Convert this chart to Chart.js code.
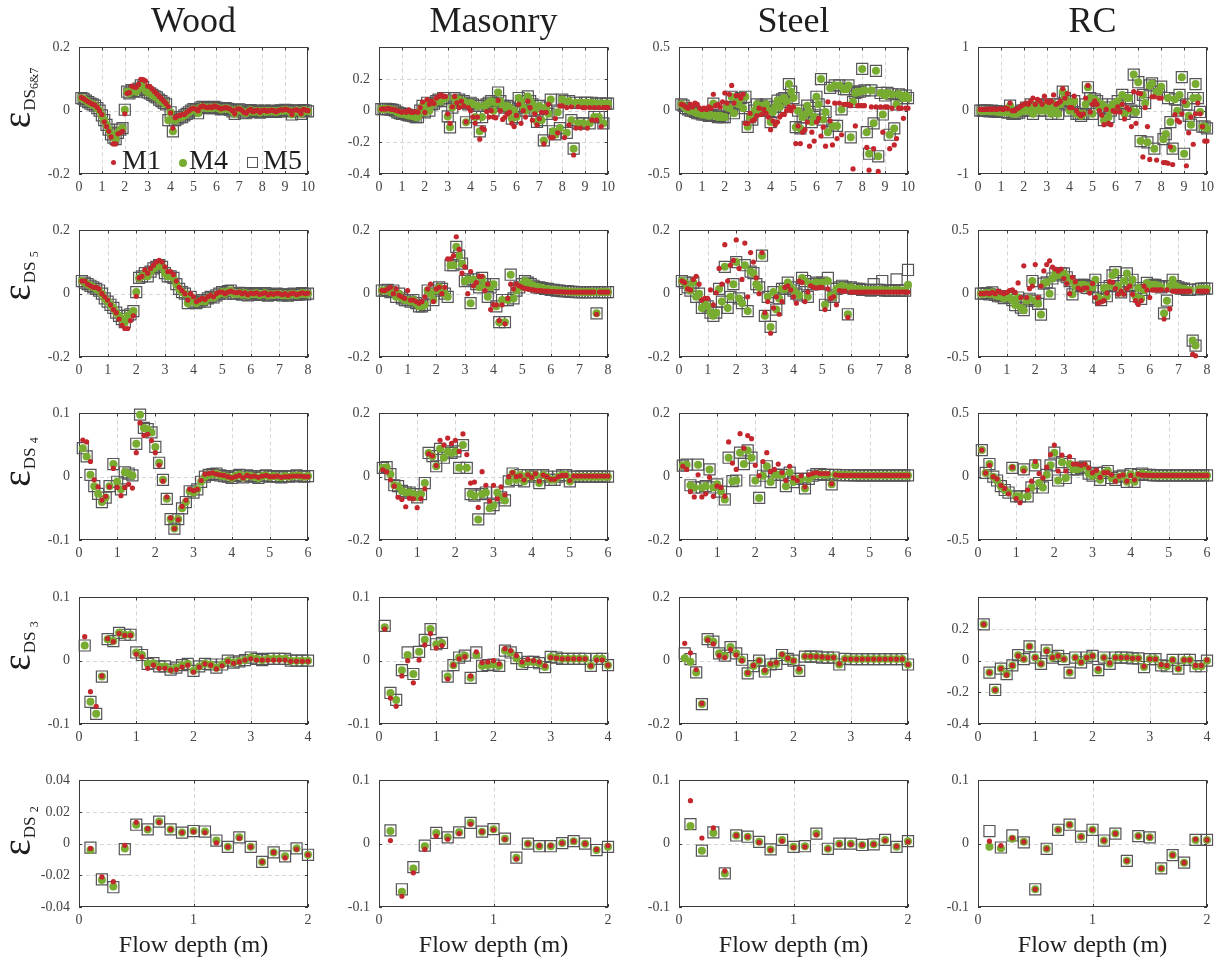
<!DOCTYPE html>
<html><head><meta charset="utf-8">
<script src="https://cdn.jsdelivr.net/npm/chart.js@4.4.1/dist/chart.umd.min.js"></script>
<style>
html,body{margin:0;padding:0;background:#fff;}
#stage{position:relative;width:1217px;height:960px;overflow:hidden;font-family:"Liberation Serif","Times New Roman",serif;color:#1e1e1e;}
#stage canvas{position:absolute;}
.title{position:absolute;top:2px;width:229px;text-align:center;font-size:36px;line-height:36px;white-space:nowrap;}
.xlab{position:absolute;top:932px;width:300px;text-align:center;font-size:24px;line-height:24px;white-space:nowrap;}
.ylab{position:absolute;white-space:nowrap;transform:translate(-50%,-50%) rotate(-90deg);line-height:40px;}
.ylab .e{font-size:39px;}
.ylab .s1{font-size:17px;position:relative;top:5px;margin-left:1px;}
.ylab .s2{font-size:12px;position:relative;top:8px;}
.leg{position:absolute;font-size:28px;line-height:28px;white-space:nowrap;}
.dot{position:absolute;border-radius:50%;}
.sq{position:absolute;border:1px solid #555;box-sizing:border-box;}
</style></head>
<body><div id="stage"></div>
<script>
// ---------- x categories (flow depth, m) ----------
const depth10=[.1,.2,.3,.4,.5,.6,.7,.8,.9,1,1.1,1.2,1.3,1.4,1.5,1.6,1.7,1.8,1.9,2,2.1,2.2,2.3,2.4,2.5,2.6,2.7,2.8,2.9,3,3.1,3.2,3.3,3.4,3.5,3.6,3.7,3.8,3.9,4,4.1,4.2,4.3,4.4,4.5,4.6,4.7,4.8,4.9,5,5.1,5.2,5.3,5.4,5.5,5.6,5.7,5.8,5.9,6,6.1,6.2,6.3,6.4,6.5,6.6,6.7,6.8,6.9,7,7.1,7.2,7.3,7.4,7.5,7.6,7.7,7.8,7.9,8,8.1,8.2,8.3,8.4,8.5,8.6,8.7,8.8,8.9,9,9.1,9.2,9.3,9.4,9.5,9.6,9.7,9.8,9.9,10];
const depth8=[.1,.2,.3,.4,.5,.6,.7,.8,.9,1,1.1,1.2,1.3,1.4,1.5,1.6,1.7,1.8,1.9,2,2.1,2.2,2.3,2.4,2.5,2.6,2.7,2.8,2.9,3,3.1,3.2,3.3,3.4,3.5,3.6,3.7,3.8,3.9,4,4.1,4.2,4.3,4.4,4.5,4.6,4.7,4.8,4.9,5,5.1,5.2,5.3,5.4,5.5,5.6,5.7,5.8,5.9,6,6.1,6.2,6.3,6.4,6.5,6.6,6.7,6.8,6.9,7,7.1,7.2,7.3,7.4,7.5,7.6,7.7,7.8,7.9,8];
const depth6=[.1,.2,.3,.4,.5,.6,.7,.8,.9,1,1.1,1.2,1.3,1.4,1.5,1.6,1.7,1.8,1.9,2,2.1,2.2,2.3,2.4,2.5,2.6,2.7,2.8,2.9,3,3.1,3.2,3.3,3.4,3.5,3.6,3.7,3.8,3.9,4,4.1,4.2,4.3,4.4,4.5,4.6,4.7,4.8,4.9,5,5.1,5.2,5.3,5.4,5.5,5.6,5.7,5.8,5.9,6];
const depth4=[.1,.2,.3,.4,.5,.6,.7,.8,.9,1,1.1,1.2,1.3,1.4,1.5,1.6,1.7,1.8,1.9,2,2.1,2.2,2.3,2.4,2.5,2.6,2.7,2.8,2.9,3,3.1,3.2,3.3,3.4,3.5,3.6,3.7,3.8,3.9,4];
const depth2=[.1,.2,.3,.4,.5,.6,.7,.8,.9,1,1.1,1.2,1.3,1.4,1.5,1.6,1.7,1.8,1.9,2];

// ---------- tick labels ----------
const xTicks10=[0,1,2,3,4,5,6,7,8,9,10];
const xTicks8=[0,1,2,3,4,5,6,7,8];
const xTicks6=[0,1,2,3,4,5,6];
const xTicks4=[0,1,2,3,4];
const xTicks2=[0,1,2];
const yT02=[-.2,0,.2];
const yT04=[-.4,-.2,0,.2];
const yT05=[-.5,0,.5];
const yT1=[-1,0,1];
const yT01=[-.1,0,.1];
const yT004=[-.04,-.02,0,.02,.04];

// ---------- categories ----------
const buildings=["Wood","Masonry","Steel","RC"];
const damageStates=["6&7","5","4","3","2"];
const models=["M1","M4","M5"];

// ================= DS 6&7 =================
const wood67M1=[.042,.038,.033,.028,.024,.02,.018,.01,0,-.012,
-.035,-.05,-.065,-.083,-.105,-.105,-.073,-.07,-.065,-.01,
.055,.057,.078,.075,.074,.083,.099,.098,.094,.078,
.076,.068,.06,.053,.045,.038,.03,.023,.013,-.007,
-.055,-.022,-.017,-.015,-.012,-.012,-.005,0,.005,.008,
.005,0,.012,.015,.012,.01,.012,.01,.015,.012,
.01,.006,.008,.01,.008,.005,0,-.01,.005,.006,
.002,-.005,-.008,0,.004,-.003,0,.002,-.005,0,
.002,-.002,0,.002,0,-.003,0,.003,.002,.005,
.003,0,-.012,.002,.003,0,-.01,.004,.002,0];
const wood67M4=[.04,.037,.032,.027,.022,.02,.016,.008,0,-.015,
-.03,-.045,-.06,-.075,-.085,-.09,-.07,-.06,-.055,.003,
.06,.055,.065,.062,.06,.07,.08,.075,.065,.058,
.055,.05,.045,.042,.035,.03,.025,.02,-.03,-.005,
-.065,-.03,-.025,-.02,-.02,-.015,-.01,-.005,0,.005,
.003,-.008,.01,.012,.01,.008,.01,.008,.012,.01,
.008,.004,.006,.008,.006,.003,-.002,-.01,.003,.004,
0,-.006,-.008,-.002,.002,-.004,-.002,0,-.006,-.002,
0,-.004,-.002,0,-.002,-.004,-.002,.001,0,.003,
.001,-.002,-.012,0,.001,-.002,-.01,.002,0,-.002];
const wood67M5=[.04,.037,.032,.027,.022,.02,.016,.008,0,-.015,
-.03,-.045,-.06,-.075,-.085,-.09,-.07,-.06,-.055,.003,
.06,.055,.065,.062,.06,.07,.08,.075,.065,.058,
.055,.05,.045,.042,.035,.03,.025,.02,-.03,-.005,
-.065,-.03,-.025,-.02,-.02,-.015,-.01,-.005,0,.005,
.003,-.008,.01,.012,.01,.008,.01,.008,.012,.01,
.008,.004,.006,.008,.006,.003,-.002,-.01,.003,.004,
0,-.006,-.008,-.002,.002,-.004,-.002,0,-.006,-.002,
0,-.004,-.002,0,-.002,-.004,-.002,.001,0,.003,
.001,-.002,-.012,0,.001,-.002,-.01,.002,0,-.002];

const masonry67M1=[.01,.012,.01,.015,.01,.008,.005,0,-.005,-.01,
-.005,-.01,.005,-.01,-.01,-.005,-.01,.02,.055,-.01,
.07,.04,.06,.045,.08,.09,.1,.09,.09,-.02,
-.08,.025,.09,.05,.02,.06,.03,-.07,.02,0,
-.04,-.08,-.04,-.18,-.11,-.12,-.005,-.04,0,-.04,
-.045,.065,0,-.055,-.04,-.02,-.01,-.08,-.1,-.03,
.04,-.08,0,-.04,.06,.02,-.06,-.02,-.09,-.05,
-.01,-.21,-.01,.04,-.17,-.17,-.05,-.14,.03,.03,
-.17,.02,-.09,.025,-.28,-.11,.025,-.11,.02,.02,
-.11,.02,-.06,.02,-.06,.02,-.1,.02,.02,.02];
const masonry67M4=[.01,.01,.012,.01,.008,.005,0,-.01,-.015,-.02,
-.02,-.025,-.03,-.03,-.035,-.04,-.04,0,.03,-.01,
.05,0,.04,.045,.06,.07,.06,.08,.08,-.036,
-.105,.02,.08,.06,.07,.05,.06,-.073,.04,.05,
.04,-.04,.03,-.13,-.04,.03,.04,.05,.06,0,
.05,.115,.06,.03,.02,.03,.02,-.05,0,-.04,
.08,.06,.02,0,.09,.06,.04,0,-.07,.03,
-.06,-.188,.02,-.02,.07,-.13,-.15,-.01,-.11,.07,
.06,-.14,.06,-.06,-.24,.05,-.08,.05,-.08,.05,
.05,-.08,.05,-.04,.045,-.04,.045,-.08,.045,.045];
const masonry67M5=[.01,.01,.012,.01,.008,.005,0,-.01,-.015,-.02,
-.02,-.025,-.03,-.03,-.035,-.04,-.04,0,.03,-.01,
.05,0,.04,.045,.06,.07,.06,.08,.08,-.036,
-.105,.02,.08,.06,.07,.05,.06,-.073,.04,.05,
.04,-.04,.03,-.13,-.04,.03,.04,.05,.06,0,
.05,.115,.06,.03,.02,.03,.02,-.05,0,-.04,
.08,.06,.02,0,.09,.06,.04,0,-.07,.03,
-.06,-.188,.02,-.02,.07,-.13,-.15,-.01,-.11,.07,
.06,-.14,.06,-.06,-.24,.05,-.08,.05,-.08,.05,
.05,-.08,.05,-.04,.045,-.04,.045,-.08,.045,.045];

const steel67M1=[.05,.045,.03,.02,.05,.03,.06,.05,.02,.01,
.02,.01,.03,.02,.13,.04,.05,.03,.07,.14,
.06,.13,.2,.06,.12,.12,.1,.13,-.1,-.1,
-.02,-.08,-.07,-.04,.02,-.03,.01,-.02,-.05,-.15,
-.08,-.11,-.09,-.05,-.03,-.03,0,.03,0,.03,
-.26,-.12,-.26,-.17,-.15,-.09,-.28,-.17,-.24,-.09,
-.06,-.2,-.13,-.28,.07,-.08,-.27,.06,-.22,.06,
-.19,.05,.05,.05,.04,-.46,-.12,.04,.04,.04,
.04,-.29,-.47,.03,-.3,.03,-.48,.03,-.17,.03,
.03,-.3,.02,-.27,-.22,.02,.02,-.06,.02,.02];
const steel67M4=[.05,.04,.02,.01,0,0,-.01,-.02,-.02,-.03,
-.03,-.03,-.04,-.035,.056,-.04,-.05,-.04,-.05,-.05,
.03,.02,.11,-.02,.06,.05,.1,.02,.11,-.127,
-.05,-.07,0,.05,0,.04,.03,.05,0,-.09,
-.01,.03,.08,.03,.09,.1,.07,.21,.15,.1,
-.13,0,-.14,-.05,-.03,.04,-.01,-.09,-.05,.11,
.05,.25,-.07,-.01,-.17,.18,-.12,.2,-.12,.2,
.01,.17,.17,.2,-.21,.07,.14,.15,.15,.33,
.16,-.17,-.34,.16,-.1,.315,-.36,.14,-.03,.12,
.14,-.19,.13,-.14,.05,.13,.12,.1,.12,.1];
const steel67M5=[.05,.04,.02,.01,0,0,-.01,-.02,-.02,-.03,
-.03,-.03,-.04,-.035,.056,-.04,-.05,-.04,-.05,-.05,
.03,.02,.11,-.02,.06,.05,.1,.02,.11,-.127,
-.05,-.07,0,.05,0,.04,.03,.05,0,-.09,
-.01,.03,.08,.03,.09,.1,.07,.21,.15,.1,
-.13,0,-.14,-.05,-.03,.04,-.01,-.09,-.05,.11,
.05,.25,-.07,-.01,-.17,.18,-.12,.2,-.12,.2,
.01,.17,.17,.2,-.21,.07,.14,.15,.15,.33,
.16,-.17,-.34,.16,-.1,.315,-.36,.14,-.03,.12,
.14,-.19,.13,-.14,.05,.13,.12,.1,.12,.1];

const rc67M1=[.02,.02,.02,.02,.03,.02,.03,.02,.03,.03,
.02,.04,.03,.12,0,0,.03,.05,.08,.1,
.12,.1,.15,.2,.1,.18,.15,.1,.23,.15,
.13,.15,.25,.1,.12,.15,.35,.2,.27,.05,
.05,.23,0,-.05,-.08,-.05,.2,.4,-.02,.1,
.15,.1,0,-.07,-.22,.02,-.2,-.22,0,-.02,
.06,-.02,.1,-.13,.05,.02,-.25,.3,-.2,.28,
.27,-.73,.05,-.25,-.77,.22,.22,-.78,.2,.2,
-.82,-.82,-.83,-.57,-.85,-.06,-.15,-.18,-.05,.14,
-.87,-.35,-.1,-.53,-.05,.12,-.05,-.25,-.48,-.48];
const rc67M4=[0,0,0,0,-.01,0,-.01,-.01,-.02,-.02,
-.02,-.02,-.03,.08,-.05,-.05,-.04,-.03,0,0,
.05,0,.1,-.05,.05,.1,0,.08,0,.1,
.05,-.05,.1,0,-.05,.1,.3,.2,.15,0,
.1,.15,-.05,-.05,-.08,-.05,.1,.37,.2,-.05,
.18,.15,.05,.1,-.15,.05,-.1,0,.1,.05,
.15,.1,.25,-.05,.2,.2,0,.57,-.02,.45,
-.48,.25,.12,-.5,.4,.43,-.6,.3,.3,.38,
-.45,-.37,.2,-.18,-.6,.18,0,.25,.53,-.68,
.1,-.08,-.22,.2,.42,.2,-.02,-.25,-.25,-.28];
const rc67M5=[0,0,0,0,-.01,0,-.01,-.01,-.02,-.02,
-.02,-.02,-.03,.08,-.05,-.05,-.04,-.03,0,0,
.05,0,.1,-.05,.05,.1,0,.08,0,.1,
.05,-.05,.1,0,-.05,.1,.3,.2,.15,0,
.1,.15,-.05,-.05,-.08,-.05,.1,.37,.2,-.05,
.18,.15,.05,.1,-.15,.05,-.1,0,.1,.05,
.15,.1,.25,-.05,.2,.2,0,.57,-.02,.45,
-.48,.25,.12,-.5,.4,.43,-.6,.3,.3,.38,
-.45,-.37,.2,-.18,-.6,.18,0,.25,.53,-.68,
.1,-.08,-.22,.2,.42,.2,-.02,-.25,-.25,-.28];

// ================= DS 5 =================
const wood5M1=[.04,.04,.03,.025,.02,.02,.015,0,-.01,-.02,
-.035,-.05,-.06,-.08,-.1,-.11,-.11,-.085,-.07,-.008,
.05,.055,.075,.065,.08,.09,.1,.105,.1,.085,
.07,.07,.06,.04,.02,.01,0,-.02,0,-.01,
-.025,-.02,-.015,-.018,-.01,-.005,-.01,0,.005,.005,
0,.005,.008,.005,.003,.005,0,.003,-.003,.002,
0,.003,-.002,0,.003,-.004,0,-.002,.002,0,
-.003,0,-.005,0,.002,-.003,0,.003,0,.002];
const wood5M4=[.04,.035,.03,.025,.02,.015,.01,0,-.015,-.025,
-.035,-.045,-.06,-.07,-.08,-.09,-.07,-.065,-.055,.005,
.05,.055,.065,.055,.07,.08,.085,.09,.085,.065,
.055,.055,.05,.03,.015,.005,0,-.03,-.01,-.025,
-.03,-.025,-.02,-.025,-.015,-.01,-.012,-.005,0,.005,
0,.008,.01,0,0,.003,-.003,.002,-.005,0,
-.002,.002,-.004,-.002,.002,-.006,-.002,-.004,0,-.002,
-.005,-.002,-.006,-.002,0,-.004,-.002,.002,-.002,0];
const wood5M5=[.04,.035,.03,.025,.02,.015,.01,0,-.015,-.025,
-.035,-.045,-.06,-.07,-.08,-.09,-.07,-.065,-.055,.005,
.05,.055,.065,.055,.07,.08,.085,.09,.085,.065,
.055,.055,.05,.03,.015,.005,0,-.03,-.01,-.025,
-.03,-.025,-.02,-.025,-.015,-.01,-.012,-.005,0,.005,
0,.008,.01,0,0,.003,-.003,.002,-.005,0,
-.002,.002,-.004,-.002,.002,-.006,-.002,-.004,0,-.002,
-.005,-.002,-.006,-.002,0,-.004,-.002,.002,-.002,0];

const masonry5M1=[.01,.01,.015,.02,0,.015,-.005,-.01,-.015,.01,
-.02,-.02,-.025,-.03,-.025,-.01,.015,.03,-.025,.015,
.02,0,.02,.11,.11,.12,.18,.14,.065,.085,
0,.07,.025,.035,.055,.055,.01,.03,-.05,-.035,
-.035,-.085,-.035,-.095,-.015,.03,.015,.03,.025,.02,
.016,.015,.013,.012,.01,.01,.009,.008,.008,.007,
.007,.006,.006,.006,.005,.005,.005,.005,.005,.005,
.005,.005,.005,.005,.005,-.065,.005,.005,.005,.005];
const masonry5M4=[.01,.01,.012,.005,.01,-.01,0,-.015,-.02,-.02,
-.025,-.02,-.03,-.04,-.04,-.035,.01,0,-.02,.01,
.02,.015,0,-.01,.09,.09,.148,.12,.095,.04,
.045,-.03,.045,.03,.02,.05,.03,-.01,.02,.03,
-.04,-.09,-.02,-.09,-.02,.06,-.015,.01,.02,.03,
.04,.035,.03,.025,.02,.02,.018,.015,.015,.012,
.012,.01,.01,.008,.008,.007,.006,.006,.005,.005,
.005,.005,.005,.005,.005,-.062,.005,.005,.005,.005];
const masonry5M5=[.01,.01,.012,.005,.01,-.01,0,-.015,-.02,-.02,
-.025,-.02,-.03,-.04,-.04,-.035,.01,0,-.02,.01,
.02,.015,0,-.01,.09,.09,.148,.12,.095,.04,
.045,-.03,.045,.03,.02,.05,.03,-.01,.02,.03,
-.04,-.09,-.02,-.09,-.02,.06,-.015,.01,.02,.03,
.04,.035,.03,.025,.02,.02,.018,.015,.015,.012,
.012,.01,.01,.008,.008,.007,.006,.006,.005,.005,
.005,.005,.005,.005,.005,-.062,.005,.005,.005,.005];

const steel5M1=[.04,.035,.015,.012,.045,.055,.03,-.02,-.015,-.015,
.012,-.035,.003,.08,.03,.155,.04,.09,.105,.17,
.08,.045,.16,-.01,.13,.1,.05,0,.13,-.06,
-.025,-.125,-.045,-.01,-.065,-.025,.02,.025,.012,-.01,
-.03,.04,.035,-.025,.005,.025,.02,.018,.02,.02,
-.05,.015,-.015,-.01,-.035,.01,.008,.008,-.075,.005,
.005,.005,.005,.005,.005,.005,.005,.005,.005,.005,
.005,.005,.005,.005,.005,.005,.005,.005,.005,.005];
const steel5M4=[.04,.035,.02,.01,.035,-.01,0,-.045,-.035,-.04,
-.06,-.07,-.06,.015,-.025,.085,-.045,-.01,.03,.1,
-.015,-.03,.09,-.055,.07,.065,.03,.02,.12,-.07,
-.01,-.105,.005,-.05,-.015,.015,.015,.035,.02,.01,
0,-.005,.05,.04,-.01,.03,.03,.035,.03,.035,
-.035,.04,-.005,-.01,.015,.02,.025,.02,-.065,.02,
.015,.015,.015,.012,.012,.012,.01,.012,.012,.012,
.012,.01,.01,.01,.01,.012,.01,.01,.01,.028];
const steel5M5=[.04,.035,.02,.01,.035,-.01,0,-.045,-.035,-.04,
-.06,-.07,-.06,.015,-.025,.085,-.045,-.01,.03,.1,
-.015,-.03,.09,-.055,.07,.065,.03,.02,.12,-.07,
-.01,-.105,.005,-.05,-.015,.015,.015,.035,.02,.01,
0,-.005,.05,.04,-.01,.03,.03,.035,.03,.035,
-.035,.05,-.005,-.01,.015,.02,.025,.02,-.065,.02,
.015,.015,.015,.012,.012,.012,.01,.03,.012,.012,
.04,.01,.01,.01,.01,.045,.01,.01,.01,.075];

const rc5M1=[0,0,.005,0,.01,0,.02,.01,0,.01,
.025,.03,.01,.085,-.03,.22,-.03,.04,.06,.23,
-.03,.06,.18,.23,.26,.21,.195,.18,.195,.12,
.08,0,.13,.095,.045,.03,.045,.045,.005,.08,
-.03,-.075,-.065,-.055,.005,.095,.09,.04,-.005,.02,
-.005,.04,.06,-.005,-.055,-.085,-.055,.06,.03,-.03,
.03,.03,.03,.03,-.2,.03,-.12,.02,.02,.02,
.02,.02,.02,.02,-.48,-.49,.02,.02,.02,.02];
const rc5M4=[0,0,.005,-.005,.01,-.01,-.02,-.02,-.035,-.02,
-.03,-.05,-.09,-.03,-.11,-.13,-.055,-.04,.1,-.055,
-.08,-.165,.08,.09,0,.12,.16,.145,.16,.16,
.13,.1,-.005,.06,.06,.07,.07,.045,.06,.05,
.11,-.03,-.05,.045,-.02,.06,.145,.17,.06,.01,
.1,.16,.06,.11,-.02,.045,-.04,.03,.085,.06,
.07,.07,.06,.05,-.155,-.055,.06,.11,.06,.05,
.04,.04,.03,.03,-.37,-.41,.035,.04,.04,.04];
const rc5M5=[0,0,.005,-.005,.01,-.01,-.02,-.02,-.035,-.02,
-.03,-.05,-.09,-.03,-.11,-.13,-.055,-.04,.1,-.055,
-.08,-.165,.08,.09,0,.12,.16,.145,.16,.16,
.13,.1,-.005,.06,.06,.07,.07,.045,.06,.05,
.11,-.03,-.05,.045,-.02,.06,.145,.17,.06,.01,
.1,.16,.06,.11,-.02,.045,-.04,.03,.085,.06,
.07,.07,.06,.05,-.155,-.055,.06,.11,.06,.05,
.04,.04,.03,.03,-.37,-.41,.035,.04,.04,.04];

// ================= DS 4 =================
const wood4M1=[.058,.055,.024,-.005,-.016,-.037,-.031,-.016,.013,-.017,
-.03,-.017,-.012,-.018,.038,.085,.065,.067,.057,.038,
.018,-.007,-.032,-.065,-.082,-.068,-.047,-.037,-.02,-.022,
-.02,-.006,.004,.005,.006,.004,.003,.002,0,-.002,
0,.002,-.002,.002,0,.001,-.001,.001,.002,0,
0,.001,-.001,0,0,.001,.001,.001,0,0];
const wood4M4=[.045,.032,.003,-.015,-.027,-.04,-.033,-.015,.02,-.008,
-.02,.007,.005,.002,.052,.098,.077,.075,.07,.047,
.022,-.005,-.035,-.067,-.082,-.067,-.05,-.04,-.023,-.025,
-.02,-.008,0,.003,.004,.005,.002,.001,0,-.002,
.001,.003,-.001,.002,.001,0,-.002,.001,.002,0,
.001,0,-.001,.001,0,.001,.002,.001,0,.001];
const wood4M5=[.045,.032,.003,-.015,-.027,-.04,-.033,-.015,.02,-.008,
-.02,.007,.005,.002,.052,.098,.077,.075,.07,.047,
.022,-.005,-.035,-.067,-.082,-.067,-.05,-.04,-.023,-.025,
-.02,-.008,0,.003,.004,.005,.002,.001,0,-.002,
.001,.003,-.001,.002,.001,0,-.002,.001,.002,0,
.001,0,-.001,.001,0,.001,.002,.001,0,.001];

const masonry4M1=[.022,.015,-.01,-.03,-.065,-.072,-.095,-.068,-.07,-.098,
-.07,-.038,.072,.066,.035,.115,.1,.122,.105,.115,
.08,.135,.07,-.02,-.017,-.097,.016,-.027,-.077,-.027,
-.07,-.032,-.057,0,.013,0,.003,-.01,.006,-.002,
.01,-.014,.005,0,-.008,-.008,0,.004,.004,-.012,
.002,.002,.002,.002,.002,.002,.002,.002,.002,.002];
const masonry4M4=[.028,.03,.008,-.027,-.03,-.045,-.05,-.05,-.055,-.065,
-.055,-.02,.075,.065,.033,.088,.06,.08,.075,.08,
.028,.1,.028,-.055,-.06,-.135,-.055,-.05,-.1,-.09,
-.05,-.065,-.075,-.015,.01,-.01,.005,-.015,.005,0,
.005,-.02,.005,0,-.01,-.01,0,.005,.005,-.015,
0,0,0,0,0,0,0,0,0,0];
const masonry4M5=[.028,.03,.008,-.027,-.03,-.045,-.05,-.05,-.055,-.065,
-.055,-.02,.075,.065,.033,.088,.06,.08,.075,.08,
.028,.1,.028,-.055,-.06,-.135,-.055,-.05,-.1,-.09,
-.05,-.065,-.075,-.015,.01,-.01,.005,-.015,.005,0,
.005,-.02,.005,0,-.01,-.01,0,.005,.005,-.015,
0,0,0,0,0,0,0,0,0,0];

const steel4M1=[.033,.023,-.047,-.064,.006,-.064,-.054,-.002,-.062,-.03,
-.034,-.062,.11,.043,.023,.136,.09,.13,.12,.036,
.003,.048,.076,.016,.023,.04,.013,-.012,.033,-.004,
-.012,.003,-.032,.006,.01,.013,.01,.01,.01,-.022,
.006,.004,.004,.004,.004,.004,.004,.004,.004,.004,
.004,.004,.004,.004,.004,.004,.004,.004,.004,.004];
const steel4M4=[.035,.038,-.027,-.034,.038,-.034,-.03,.023,-.034,-.024,
-.047,-.072,.06,-.014,-.012,.076,.04,.083,.06,-.012,
-.067,.003,.033,-.017,.006,.006,.006,-.03,.013,-.017,
-.007,-.007,-.037,-.007,.003,.008,.008,.006,.006,-.024,
.006,.005,.005,.005,.005,.004,.004,.004,.004,.004,
.004,.004,.004,.004,.004,.004,.004,.004,.004,.004];
const steel4M5=[.035,.038,-.027,-.034,.038,-.034,-.03,.023,-.034,-.024,
-.047,-.072,.06,-.014,-.012,.076,.04,.083,.06,-.012,
-.067,.003,.033,-.017,.006,.006,.006,-.03,.013,-.017,
-.007,-.007,-.037,-.007,.003,.008,.008,.006,.006,-.024,
.006,.005,.005,.005,.005,.004,.004,.004,.004,.004,
.004,.004,.004,.004,.004,.004,.004,.004,.004,.004];

const rc4M1=[.21,.03,.09,0,-.017,-.068,-.093,-.135,.075,-.172,
-.205,.045,-.105,-.035,.12,.025,-.01,.075,.175,.25,
.045,.17,.045,.158,.1,.1,.09,.1,.07,.032,
.05,-.005,.032,.032,.015,-.035,.005,.015,-.035,.01,
-.025,.02,.012,.012,.01,.01,.01,.01,.01,.01,
.01,.01,.01,.01,.01,.01,.01,.01,.01,.01];
const rc4M4=[.21,.03,.1,0,-.03,-.075,-.105,-.125,.07,-.155,
-.155,.058,-.155,-.085,.09,-.05,-.085,.015,.09,.19,
-.03,.115,-.01,.1,.058,.058,.07,.08,.025,.008,
.03,-.025,.03,.045,-.01,-.025,0,.008,-.04,.02,
-.04,.015,.025,.015,.015,.01,.01,.01,.01,.01,
.01,.01,.01,.01,.01,.01,.01,.01,.01,.01];
const rc4M5=[.21,.03,.1,0,-.03,-.075,-.105,-.125,.07,-.155,
-.155,.058,-.155,-.085,.09,-.05,-.085,.015,.09,.19,
-.03,.115,-.01,.1,.058,.058,.07,.08,.025,.008,
.03,-.025,.03,.045,-.01,-.025,0,.008,-.04,.02,
-.04,.015,.025,.015,.015,.01,.01,.01,.01,.01,
.01,.01,.01,.01,.01,.01,.01,.01,.01,.01];

// ================= DS 3 =================
const wood3M1=[.038,-.049,-.072,-.024,.035,.03,.043,.04,.04,.01,
.006,-.012,-.007,-.012,-.012,-.015,-.014,-.01,-.007,-.018,
-.01,-.005,-.007,-.013,-.008,-.001,-.004,-.002,.001,.003,
.001,.001,.001,.001,.001,.001,-.001,-.001,-.001,-.001];
const wood3M4=[.024,-.065,-.084,-.025,.034,.031,.044,.041,.041,.013,
.009,-.005,-.004,-.009,-.009,-.014,-.011,-.007,-.005,-.016,
-.009,-.005,-.006,-.011,-.006,0,-.003,-.001,.001,.005,
.003,.001,.003,.003,.003,.003,0,0,0,0];
const wood3M5=[.024,-.065,-.084,-.025,.034,.031,.044,.041,.041,.013,
.009,-.005,-.004,-.009,-.009,-.014,-.011,-.007,-.005,-.016,
-.009,-.005,-.006,-.011,-.006,0,-.003,-.001,.001,.005,
.003,.001,.003,.003,.003,.003,0,0,0,0];

const masonry3M1=[.05,-.059,-.072,-.024,0,-.035,.001,.025,.043,.02,
.024,-.029,-.007,.003,.006,-.024,.014,-.003,-.002,0,
-.005,.019,.016,.008,-.002,.002,0,-.002,-.008,.005,
.004,.003,.003,.003,.003,.003,-.008,.001,.001,-.007];
const masonry3M4=[.053,-.051,-.062,-.015,.009,-.021,.014,.033,.05,.026,
.028,-.025,-.007,.005,.008,-.027,.009,-.008,-.007,-.006,
-.008,.016,.013,.004,-.005,-.002,-.002,-.004,-.01,.006,
.005,.003,.003,.003,.003,.003,-.008,.003,.003,-.007];
const masonry3M5=[.055,-.051,-.062,-.015,.013,-.021,.014,.033,.05,.026,
.028,-.025,-.007,.005,.008,-.027,.013,-.008,-.007,-.006,
-.008,.016,.013,.004,-.005,-.002,-.002,-.004,-.01,.006,
.005,.003,.003,.003,.003,.003,-.008,.003,.003,-.007];

const steel3M1=[.055,.025,-.028,-.135,.065,.053,.016,.01,.035,.018,
0,-.038,-.015,0,-.03,-.01,-.006,.02,.008,0,
-.026,.014,.014,.013,.012,.01,.01,-.01,.005,.005,
.005,.005,.005,.005,.005,.005,.005,.005,.005,-.012];
const steel3M4=[.008,-.003,-.037,-.137,.068,.06,.023,.016,.043,.023,
.003,-.04,-.017,0,-.034,-.012,-.01,.018,.006,0,
-.032,.013,.013,.013,.01,.01,.01,-.012,.006,.005,
.005,.005,.005,.005,.005,.005,.005,.005,.005,-.012];
const steel3M5=[.023,.005,-.037,-.137,.068,.06,.023,.016,.043,.023,
.003,-.04,-.017,0,-.034,-.012,-.01,.018,.006,0,
-.032,.013,.013,.013,.01,.01,.01,-.012,.006,.005,
.005,.005,.005,.005,.005,.005,.005,.005,.005,-.012];

const rc3M1=[.23,-.075,-.185,-.05,-.09,-.03,.03,.01,.09,.02,
-.02,.06,.02,.03,.01,-.07,.02,-.01,.02,.03,
-.05,.02,-.015,.02,.02,.02,.015,.015,-.035,.01,
.01,-.025,-.03,.005,-.05,.005,.005,-.03,-.03,.005];
const rc3M4=[.23,-.075,-.185,-.05,-.085,-.03,.035,.01,.09,.02,
-.02,.065,.02,.03,.01,-.075,.02,-.01,.02,.03,
-.06,.02,-.02,.02,.02,.02,.015,.015,-.04,.01,
.01,-.03,-.035,.005,-.05,.005,.005,-.035,-.035,0];
const rc3M5=[.23,-.075,-.185,-.05,-.085,-.03,.035,.01,.09,.02,
-.02,.065,.02,.03,.01,-.075,.02,-.01,.02,.03,
-.06,.02,-.02,.02,.02,.02,.015,.015,-.04,.01,
.01,-.03,-.035,.005,-.05,.005,.005,-.035,-.035,0];

// ================= DS 2 =================
const wood2M1=[-.003,-.021,-.024,-.001,.0135,.0095,.0135,.009,.007,.0075,.007,.0005,-.002,.0035,-.002,-.0115,-.0055,-.009,-.0035,-.007];
const wood2M4=[-.004,-.023,-.027,-.003,.012,.009,.014,.009,.007,.008,.0077,.002,-.002,.004,-.002,-.0115,-.0055,-.008,-.003,-.007];
const wood2M5=[-.0025,-.0225,-.0275,-.0035,.012,.009,.014,.009,.007,.008,.0077,.002,-.002,.004,-.002,-.0115,-.0055,-.008,-.003,-.007];
const masonry2M1=[.005,-.083,-.046,-.009,.012,.007,.016,.031,.019,.022,.007,-.024,0,-.003,-.003,.001,.004,0,-.009,-.003];
const masonry2M4=[.02,-.076,-.039,-.004,.017,.01,.018,.033,.019,.023,.008,-.022,0,-.004,-.004,.001,.004,0,-.01,-.005];
const masonry2M5=[.021,-.072,-.037,-.003,.017,.01,.018,.033,.019,.023,.008,-.022,0,-.004,-.004,.001,.004,0,-.01,-.005];
const steel2M1=[.068,.009,.025,-.043,.013,.011,.002,-.01,.004,-.006,-.005,.014,-.008,-.001,-.001,-.002,-.001,.005,-.004,.003];
const steel2M4=[.028,-.011,.017,-.047,.013,.011,.003,-.009,.006,-.005,-.004,.016,-.008,0,0,-.002,-.001,.006,-.005,.004];
const steel2M5=[.031,-.011,.018,-.047,.013,.011,.003,-.009,.006,-.005,-.004,.016,-.008,0,0,-.002,-.001,.006,-.005,.004];
const rc2M1=[.004,-.003,.009,.003,-.072,-.008,.022,.03,.011,.022,.005,.016,-.027,.012,.01,-.039,-.018,-.03,.007,.006];
const rc2M4=[-.005,-.007,.008,.003,-.072,-.008,.022,.03,.011,.022,.005,.016,-.027,.012,.01,-.039,-.018,-.03,.006,.006];
const rc2M5=[.02,-.006,.013,.002,-.072,-.008,.022,.03,.011,.022,.005,.016,-.027,.012,.01,-.039,-.018,-.03,.006,.006];

// ---------- panel table (row = damage state, col = building) ----------
const panels=[
 [ {x:depth10,xt:xTicks10,yt:yT02,ymin:-.2,ymax:.2,s:[wood67M1,wood67M4,wood67M5]},
   {x:depth10,xt:xTicks10,yt:yT04,ymin:-.4,ymax:.4,s:[masonry67M1,masonry67M4,masonry67M5]},
   {x:depth10,xt:xTicks10,yt:yT05,ymin:-.5,ymax:.5,s:[steel67M1,steel67M4,steel67M5]},
   {x:depth10,xt:xTicks10,yt:yT1,ymin:-1,ymax:1,s:[rc67M1,rc67M4,rc67M5]} ],
 [ {x:depth8,xt:xTicks8,yt:yT02,ymin:-.2,ymax:.2,s:[wood5M1,wood5M4,wood5M5]},
   {x:depth8,xt:xTicks8,yt:yT02,ymin:-.2,ymax:.2,s:[masonry5M1,masonry5M4,masonry5M5]},
   {x:depth8,xt:xTicks8,yt:yT02,ymin:-.2,ymax:.2,s:[steel5M1,steel5M4,steel5M5]},
   {x:depth8,xt:xTicks8,yt:yT05,ymin:-.5,ymax:.5,s:[rc5M1,rc5M4,rc5M5]} ],
 [ {x:depth6,xt:xTicks6,yt:yT01,ymin:-.1,ymax:.1,s:[wood4M1,wood4M4,wood4M5]},
   {x:depth6,xt:xTicks6,yt:yT02,ymin:-.2,ymax:.2,s:[masonry4M1,masonry4M4,masonry4M5]},
   {x:depth6,xt:xTicks6,yt:yT02,ymin:-.2,ymax:.2,s:[steel4M1,steel4M4,steel4M5]},
   {x:depth6,xt:xTicks6,yt:yT05,ymin:-.5,ymax:.5,s:[rc4M1,rc4M4,rc4M5]} ],
 [ {x:depth4,xt:xTicks4,yt:yT01,ymin:-.1,ymax:.1,s:[wood3M1,wood3M4,wood3M5]},
   {x:depth4,xt:xTicks4,yt:yT01,ymin:-.1,ymax:.1,s:[masonry3M1,masonry3M4,masonry3M5]},
   {x:depth4,xt:xTicks4,yt:yT02,ymin:-.2,ymax:.2,s:[steel3M1,steel3M4,steel3M5]},
   {x:depth4,xt:xTicks4,yt:yT04,ymin:-.4,ymax:.4,s:[rc3M1,rc3M4,rc3M5]} ],
 [ {x:depth2,xt:xTicks2,yt:yT004,ymin:-.04,ymax:.04,s:[wood2M1,wood2M4,wood2M5]},
   {x:depth2,xt:xTicks2,yt:yT01,ymin:-.1,ymax:.1,s:[masonry2M1,masonry2M4,masonry2M5]},
   {x:depth2,xt:xTicks2,yt:yT01,ymin:-.1,ymax:.1,s:[steel2M1,steel2M4,steel2M5]},
   {x:depth2,xt:xTicks2,yt:yT01,ymin:-.1,ymax:.1,s:[rc2M1,rc2M4,rc2M5]} ]
];

// ---------- layout / style ----------
const colLeft=[79,379,679,978], rowTop=[42,225,408,592,775];
const PW=229, PH=132, PADL=60, PADT=12, PADR=14, PADB=28;
const RED='#c3262c', GREEN='#77ac30', SQ='#555555', TICK='#454545', FONT='Liberation Serif';
const stage=document.getElementById('stage');
const fmt=v=>String(+(+v).toFixed(3));

const framePlugin={id:'frame',
 beforeDatasetsDraw(chart){
  const {ctx,chartArea:a,scales:{x,y}}=chart;
  ctx.save();
  ctx.strokeStyle='#d6d6d6'; ctx.lineWidth=1; ctx.setLineDash([4,3]);
  x.ticks.forEach(t=>{const p=Math.round(x.getPixelForValue(t.value))+.5; if(p<a.left+2||p>a.right-2)return; ctx.beginPath();ctx.moveTo(p,a.top);ctx.lineTo(p,a.bottom);ctx.stroke();});
  y.ticks.forEach(t=>{const p=Math.round(y.getPixelForValue(t.value))+.5; if(p<a.top+2||p>a.bottom-2)return; ctx.beginPath();ctx.moveTo(a.left,p);ctx.lineTo(a.right,p);ctx.stroke();});
  ctx.setLineDash([]); ctx.strokeStyle='#3a3a3a';
  x.ticks.forEach(t=>{const p=Math.round(x.getPixelForValue(t.value))+.5; ctx.beginPath();ctx.moveTo(p,a.bottom);ctx.lineTo(p,a.bottom-3);ctx.moveTo(p,a.top);ctx.lineTo(p,a.top+3);ctx.stroke();});
  y.ticks.forEach(t=>{const p=Math.round(y.getPixelForValue(t.value))+.5; ctx.beginPath();ctx.moveTo(a.left,p);ctx.lineTo(a.left+3,p);ctx.moveTo(a.right,p);ctx.lineTo(a.right-3,p);ctx.stroke();});
  ctx.strokeRect(Math.round(a.left)+.5,Math.round(a.top)+.5,Math.round(a.width)-1,Math.round(a.height)-1);
  ctx.restore();
 }};

function makePanel(p,r,c){
  const cv=document.createElement('canvas');
  const W=PADL+PW+PADR, H=PADT+PH+PADB;
  cv.width=W; cv.height=H;
  cv.style.left=(colLeft[c]-PADL)+'px'; cv.style.top=(rowTop[r]-PADT)+'px';
  cv.style.width=W+'px'; cv.style.height=H+'px';
  stage.appendChild(cv);
  const pts=arr=>p.x.map((v,i)=>({x:v,y:arr[i]}));
  const tickFont={family:FONT,size:14};
  new Chart(cv.getContext('2d'),{
    type:'scatter',
    data:{datasets:[
      {label:models[0],data:pts(p.s[0]),pointStyle:'circle',pointRadius:2.6,backgroundColor:RED,borderWidth:0,clip:false},
      {label:models[1],data:pts(p.s[1]),pointStyle:'circle',pointRadius:4,backgroundColor:GREEN,borderWidth:0,clip:false},
      {label:models[2],data:pts(p.s[2]),pointStyle:'rect',pointRadius:7.8,backgroundColor:'rgba(0,0,0,0)',borderColor:SQ,borderWidth:1.2,clip:false}
    ]},
    options:{responsive:false,animation:false,devicePixelRatio:1,events:[],
      layout:{padding:{left:0,top:PADT,right:PADR,bottom:0}},
      plugins:{legend:{display:false},tooltip:{enabled:false}},
      scales:{
        x:{type:'linear',min:0,max:p.xt[p.xt.length-1],
           grid:{display:false,drawTicks:false},border:{display:false},
           afterBuildTicks:s=>{s.ticks=p.xt.map(v=>({value:v}));},
           afterFit:s=>{s.height=PADB;},
           ticks:{autoSkip:false,maxRotation:0,padding:5,color:TICK,font:tickFont,callback:v=>fmt(v)}},
        y:{type:'linear',min:p.ymin,max:p.ymax,
           grid:{display:false,drawTicks:false},border:{display:false},
           afterBuildTicks:s=>{s.ticks=p.yt.map(v=>({value:v}));},
           afterFit:s=>{s.width=PADL;},
           ticks:{autoSkip:false,padding:9,color:TICK,font:tickFont,callback:v=>fmt(v)}}
      }},
    plugins:[framePlugin]
  });
}

panels.forEach((row,r)=>row.forEach((p,c)=>makePanel(p,r,c)));

// ---------- text ----------
buildings.forEach((b,c)=>{
  const d=document.createElement('div'); d.className='title'; d.textContent=b;
  d.style.left=colLeft[c]+'px'; stage.appendChild(d);
  const xl=document.createElement('div'); xl.className='xlab'; xl.textContent='Flow depth (m)';
  xl.style.left=(colLeft[c]+PW/2-150)+'px'; stage.appendChild(xl);
});
const yLabelCenter=[98,276,462,646,831];
damageStates.forEach((ds,r)=>{
  const d=document.createElement('div'); d.className='ylab';
  const e=document.createElement('span'); e.className='e'; e.textContent='ε';
  const s1=document.createElement('span'); s1.className='s1'; s1.textContent=ds.length>1?'DS':'DS ';
  const s2=document.createElement('span'); s2.className='s2'; s2.textContent=ds;
  d.appendChild(e); d.appendChild(s1); d.appendChild(s2);
  d.style.left='21px'; d.style.top=yLabelCenter[r]+'px';
  stage.appendChild(d);
});

// ---------- legend (inside Wood DS6&7 panel) ----------
function add(cls,css,txt){const d=document.createElement('div');d.className=cls;Object.assign(d.style,css);if(txt)d.textContent=txt;stage.appendChild(d);}
add('dot',{left:'111px',top:'160px',width:'5px',height:'5px',background:RED});
add('leg',{left:'122px',top:'146px'},models[0]);
add('dot',{left:'179px',top:'159px',width:'8px',height:'8px',background:GREEN});
add('leg',{left:'189px',top:'146px'},models[1]);
add('sq',{left:'247px',top:'157px',width:'11px',height:'11px'});
add('leg',{left:'263px',top:'146px'},models[2]);
</script>
</body></html>
